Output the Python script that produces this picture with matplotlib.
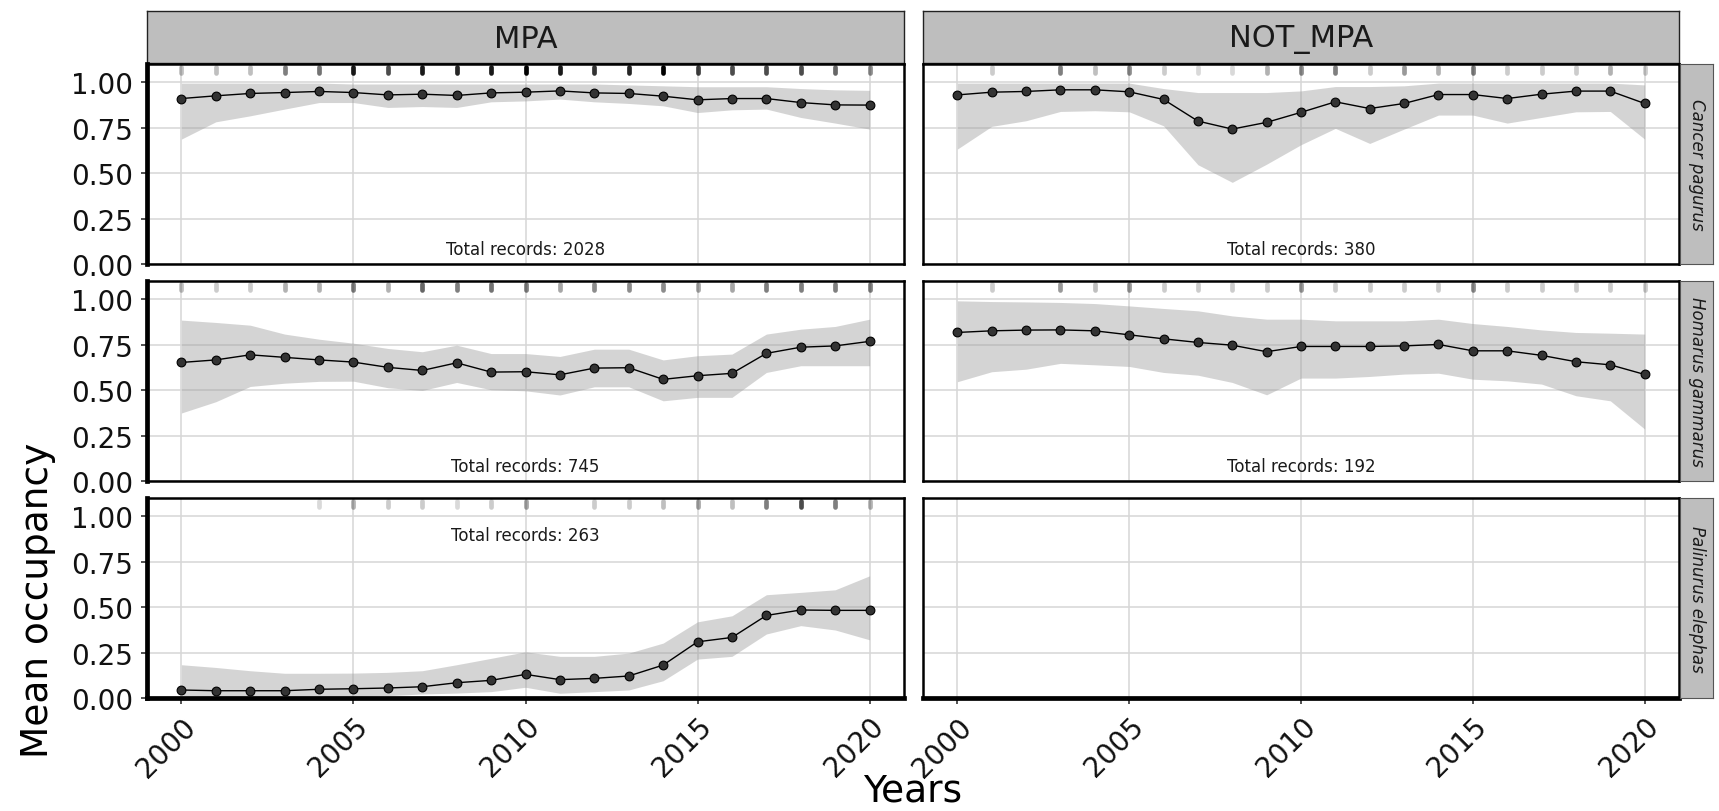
import matplotlib
matplotlib.use("Agg")
import matplotlib.pyplot as plt
import matplotlib.transforms as mtrans
import numpy as np

# years and facet labels
years = np.arange(2000, 2021)
areas = ["MPA", "NOT_MPA"]
species = ["Cancer pagurus", "Homarus gammarus", "Palinurus elephas"]

# MPA - Cancer pagurus
mpa_cancer_mean = [0.91, 0.925, 0.938, 0.943, 0.949, 0.943, 0.930, 0.934, 0.927, 0.941, 0.945,
                   0.952, 0.941, 0.938, 0.923, 0.903, 0.910, 0.910, 0.888, 0.875, 0.874]
mpa_cancer_lo = [0.687, 0.782, 0.815, 0.852, 0.888, 0.888, 0.861, 0.866, 0.861, 0.892, 0.897,
                 0.907, 0.892, 0.883, 0.870, 0.833, 0.848, 0.852, 0.806, 0.775, 0.742]
mpa_cancer_hi = [0.995, 0.995, 0.995, 0.995, 0.995, 0.99, 0.99, 0.99, 0.99, 0.99, 0.99,
                 0.99, 0.99, 0.985, 0.98, 0.975, 0.975, 0.975, 0.965, 0.958, 0.955]
mpa_cancer_rug = [0.25, 0.25, 0.25, 0.5, 0.55, 0.9, 0.7, 0.9, 0.85, 0.9, 1.0,
                  0.9, 0.8, 0.85, 1.0, 0.75, 0.7, 0.7, 0.7, 0.6, 0.45]

# MPA - Homarus gammarus
mpa_homarus_mean = [0.652, 0.666, 0.694, 0.680, 0.666, 0.654, 0.625, 0.608, 0.650, 0.599, 0.601,
                    0.584, 0.621, 0.623, 0.559, 0.579, 0.592, 0.702, 0.736, 0.743, 0.768]
mpa_homarus_lo = [0.374, 0.436, 0.520, 0.538, 0.548, 0.549, 0.513, 0.498, 0.542, 0.502, 0.496,
                  0.473, 0.518, 0.518, 0.441, 0.460, 0.460, 0.597, 0.634, 0.634, 0.634]
mpa_homarus_hi = [0.885, 0.872, 0.857, 0.808, 0.780, 0.758, 0.729, 0.711, 0.747, 0.701, 0.701,
                  0.685, 0.725, 0.725, 0.666, 0.689, 0.698, 0.808, 0.835, 0.850, 0.890]
mpa_homarus_rug = [0.25, 0.2, 0.2, 0.3, 0.3, 0.5, 0.3, 0.6, 0.5, 0.55, 0.5,
                   0.35, 0.45, 0.45, 0.45, 0.35, 0.35, 0.5, 0.5, 0.5, 0.5]

# MPA - Palinurus elephas
mpa_palinurus_mean = [0.044, 0.040, 0.040, 0.040, 0.048, 0.051, 0.055, 0.062, 0.084, 0.097, 0.130,
                      0.101, 0.108, 0.121, 0.181, 0.309, 0.333, 0.454, 0.484, 0.482, 0.482]
mpa_palinurus_lo = [0.013, 0.007, 0.007, 0.007, 0.007, 0.007, 0.013, 0.022, 0.027, 0.035, 0.059,
                    0.026, 0.035, 0.044, 0.095, 0.214, 0.229, 0.352, 0.398, 0.374, 0.320]
mpa_palinurus_hi = [0.183, 0.168, 0.150, 0.136, 0.136, 0.137, 0.141, 0.150, 0.183, 0.218, 0.254,
                    0.229, 0.229, 0.247, 0.302, 0.419, 0.452, 0.568, 0.581, 0.595, 0.672]
mpa_palinurus_rug = [0, 0, 0, 0, 0.15, 0.3, 0.2, 0.2, 0.15, 0.2, 0.35,
                     0, 0.2, 0.2, 0.25, 0.35, 0.25, 0.5, 0.7, 0.5, 0.3]

# NOT_MPA - Cancer pagurus
not_cancer_mean = [0.930, 0.945, 0.949, 0.958, 0.958, 0.947, 0.905, 0.786, 0.742, 0.779, 0.834,
                   0.892, 0.855, 0.883, 0.932, 0.932, 0.910, 0.934, 0.951, 0.951, 0.883]
not_cancer_lo = [0.632, 0.757, 0.788, 0.839, 0.843, 0.837, 0.760, 0.546, 0.449, 0.549, 0.656,
                 0.746, 0.663, 0.742, 0.819, 0.819, 0.775, 0.806, 0.837, 0.839, 0.687]
not_cancer_hi = [0.995, 0.995, 0.995, 0.995, 0.995, 0.995, 0.965, 0.943, 0.943, 0.943, 0.952,
                 0.976, 0.976, 0.98, 0.995, 0.995, 0.995, 0.995, 0.995, 0.995, 0.985]
not_cancer_rug = [0, 0.2, 0, 0.5, 0.25, 0.45, 0.2, 0.15, 0.15, 0.3, 0.45,
                  0.5, 0.2, 0.4, 0.3, 0.5, 0.2, 0.2, 0.2, 0.3, 0.2]

# NOT_MPA - Homarus gammarus
not_homarus_mean = [0.817, 0.826, 0.830, 0.831, 0.826, 0.804, 0.782, 0.762, 0.747, 0.711, 0.740,
                    0.740, 0.740, 0.743, 0.751, 0.716, 0.716, 0.691, 0.656, 0.639, 0.586]
not_homarus_lo = [0.546, 0.601, 0.615, 0.647, 0.639, 0.630, 0.597, 0.582, 0.542, 0.474, 0.566,
                  0.566, 0.575, 0.588, 0.593, 0.560, 0.551, 0.533, 0.469, 0.441, 0.286]
not_homarus_hi = [0.991, 0.987, 0.985, 0.982, 0.976, 0.963, 0.949, 0.936, 0.908, 0.890, 0.890,
                  0.881, 0.881, 0.881, 0.890, 0.866, 0.850, 0.831, 0.817, 0.813, 0.808]
not_homarus_rug = [0, 0.2, 0, 0.4, 0.25, 0.4, 0.2, 0.2, 0.2, 0.2, 0.4,
                   0.2, 0.2, 0.2, 0.2, 0.45, 0.2, 0.2, 0.2, 0.2, 0.2]

# total records per panel (bottom-right panel is empty)
total_records = {("MPA", 0): 2028, ("MPA", 1): 745, ("MPA", 2): 263,
                 ("NOT_MPA", 0): 380, ("NOT_MPA", 1): 192}

series = {
    ("MPA", 0): (mpa_cancer_mean, mpa_cancer_lo, mpa_cancer_hi, mpa_cancer_rug),
    ("MPA", 1): (mpa_homarus_mean, mpa_homarus_lo, mpa_homarus_hi, mpa_homarus_rug),
    ("MPA", 2): (mpa_palinurus_mean, mpa_palinurus_lo, mpa_palinurus_hi, mpa_palinurus_rug),
    ("NOT_MPA", 0): (not_cancer_mean, not_cancer_lo, not_cancer_hi, not_cancer_rug),
    ("NOT_MPA", 1): (not_homarus_mean, not_homarus_lo, not_homarus_hi, not_homarus_rug),
}

W, H = 1719, 812
fig = plt.figure(figsize=(W / 100, H / 100), dpi=100)

def px_axes(x0, y0, x1, y1):
    return fig.add_axes([x0 / W, 1 - y1 / H, (x1 - x0) / W, (y1 - y0) / H])

col_x = [(147, 904), (923, 1679)]
row_y = [(65, 265), (282, 482), (499, 699)]
strip_gray = "#bebebe"

for c, area in enumerate(areas):
    x0, x1 = col_x[c]
    # top strip
    sax = px_axes(x0, 12, x1, 64)
    sax.set_facecolor(strip_gray)
    sax.set_xticks([]); sax.set_yticks([])
    for sp in sax.spines.values():
        sp.set_linewidth(1.0); sp.set_color("#222222")
    sax.text(0.5, 0.47, area, ha="center", va="center", fontsize=22, color="#1a1a1a",
             transform=sax.transAxes)

    for r, sp_name in enumerate(species):
        y0, y1 = row_y[r]
        ax = px_axes(x0, y0, x1, y1)
        ax.set_xlim(1999, 2021)
        ax.set_ylim(0, 1.1)
        ax.set_axisbelow(True)
        ax.set_yticks([0, 0.25, 0.5, 0.75, 1.0])
        ax.set_xticks([2000, 2005, 2010, 2015, 2020])
        ax.grid(True, color="#d6d6d6", linewidth=1.1)
        for s in ax.spines.values():
            s.set_linewidth(1.8); s.set_color("black")
        ax.tick_params(length=4, width=1.2, color="#333333", labelsize=20,
                       labelcolor="#111111", pad=6)
        if c == 0:
            ax.spines["left"].set_linewidth(3.4)
            ax.set_yticklabels(["0.00", "0.25", "0.50", "0.75", "1.00"])
        else:
            ax.tick_params(axis="y", length=0, labelleft=False)
        if r == 2:
            ax.spines["bottom"].set_linewidth(3.4)
            ax.set_xticklabels([str(v) for v in [2000, 2005, 2010, 2015, 2020]],
                               rotation=45, ha="right", va="top", rotation_mode="anchor")
        else:
            ax.tick_params(axis="x", length=0, labelbottom=False)

        key = (area, r)
        if key in series:
            mean, lo, hi, rug = series[key]
            ax.fill_between(years, lo, hi, color="#9a9a9a", alpha=0.42, linewidth=0, zorder=2)
            ax.plot(years, mean, color="black", linewidth=1.0, zorder=3)
            ax.plot(years, mean, "o", markersize=6.3, markerfacecolor="#333333",
                    markeredgecolor="black", markeredgewidth=0.8, zorder=4)
            tr = mtrans.blended_transform_factory(ax.transData, ax.transAxes)
            for yr, a in zip(years, rug):
                if a > 0:
                    ax.plot([yr, yr], [0.985, 0.955], color="black", alpha=a, linewidth=3.4,
                            solid_capstyle="round", transform=tr, zorder=5)
            ty = 0.896 if r == 2 else 0.085
            ax.text(2010, ty, "Total records: %d" % total_records[key], ha="center",
                    va="center", fontsize=12, color="#1a1a1a", zorder=6)

        if c == 1:
            rax = px_axes(1680, y0, 1713, y1)
            rax.set_facecolor(strip_gray)
            rax.set_xticks([]); rax.set_yticks([])
            for s in rax.spines.values():
                s.set_linewidth(0.8); s.set_color("#555555")
            rax.text(0.5, 0.5, sp_name, rotation=-90, ha="center", va="center",
                     fontsize=12, style="italic", color="#1a1a1a", transform=rax.transAxes)

fig.text(38 / W, 1 - 600 / H, "Mean occupancy", rotation=90, ha="center", va="center",
         fontsize=27, color="black")
fig.text(913 / W, 2 / H, "Years", ha="center", va="bottom", fontsize=27, color="black")

fig.savefig("out.png", dpi=100)
